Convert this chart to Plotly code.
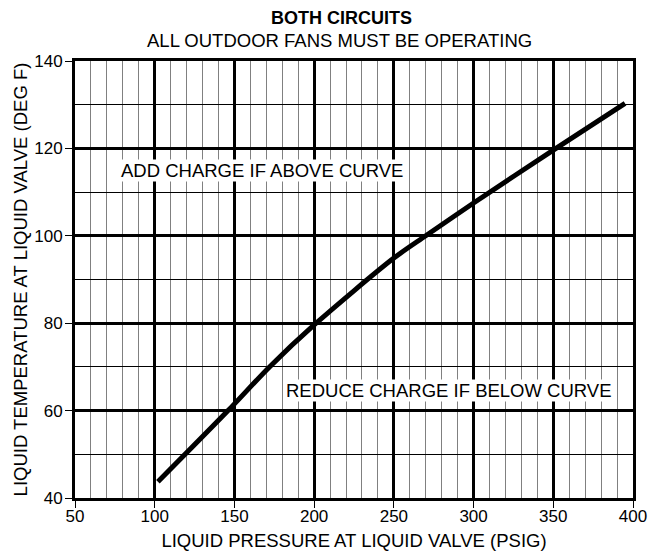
import plotly.graph_objects as go

# Curve values
pressure = [102, 146, 172, 200, 250, 270, 300, 350, 395]
temperature = [43.7, 60, 70, 79.6, 94.9, 100, 107.5, 119.6, 130.3]

x_ticks = [50, 100, 150, 200, 250, 300, 350, 400]
y_ticks = [40, 60, 80, 100, 120, 140]

title_main = "BOTH CIRCUITS"
title_sub = "ALL OUTDOOR FANS MUST BE OPERATING"
x_title = "LIQUID PRESSURE AT LIQUID VALVE (PSIG)"
y_title = "LIQUID TEMPERATURE AT LIQUID VALVE (DEG F)"
note_above = "ADD CHARGE IF ABOVE CURVE"
note_below = "REDUCE CHARGE IF BELOW CURVE"

FONT = "Liberation Sans, Arial, sans-serif"
FS = 18.5

# page offset (browser body margin) compensation
OFF = 8
W, H = 660 - OFF, 551 - OFF
L, R, T, B = 75 - OFF, 27, 61 - OFF, 53

fig = go.Figure()
fig.add_trace(go.Scatter(
    x=pressure, y=temperature, mode="lines",
    line=dict(color="black", width=5, shape="spline", smoothing=0.8),
    hoverinfo="skip", showlegend=False,
))

axis_common = dict(
    showline=True, linecolor="black", linewidth=3, mirror=True,
    showgrid=True, gridcolor="black", gridwidth=3,
    ticks="outside", ticklen=7, tickwidth=1, tickcolor="black",
    zeroline=False, automargin=False,
    tickfont=dict(family=FONT, size=17, color="black"),
)

fig.update_xaxes(
    range=[50, 400], tickvals=x_ticks, ticklabelstandoff=-6,
    minor=dict(dtick=10, tick0=50, showgrid=True, gridcolor="#808080", gridwidth=1, ticks=""),
    title=dict(text=x_title, font=dict(family=FONT, size=FS, color="black"), standoff=18),
    **axis_common,
)
fig.update_yaxes(
    range=[40, 140], tickvals=y_ticks, ticklabelstandoff=-1,
    minor=dict(dtick=10, tick0=40, showgrid=True, gridcolor="black", gridwidth=1, ticks=""),
    title=dict(text=y_title, font=dict(family=FONT, size=FS, color="black"), standoff=2),
    **axis_common,
)

fig.add_annotation(x=167, y=115, xref="x", yref="y", text=note_above, showarrow=False,
                   bgcolor="white", borderpad=0,
                   font=dict(family=FONT, size=FS, color="black"))
fig.add_annotation(x=284.5, y=64.7, xref="x", yref="y", text=note_below, showarrow=False,
                   bgcolor="white", borderpad=0,
                   font=dict(family=FONT, size=FS, color="black"))

fig.update_layout(
    width=W, height=H,
    margin=dict(l=L, r=R, t=T, b=B),
    paper_bgcolor="white", plot_bgcolor="white",
    font=dict(family=FONT, color="black"),
    showlegend=False,
)

plot_w = W - L - R
plot_h = H - T - B
def px_to_paper_x(px):
    return (px - OFF - L) / plot_w
def px_to_paper_y(py):
    return (H - B - (py - OFF)) / plot_h

fig.add_annotation(x=px_to_paper_x(341), y=px_to_paper_y(18), xref="paper", yref="paper",
                   text="<b>" + title_main + "</b>", showarrow=False, yanchor="middle",
                   font=dict(family=FONT, size=18, color="black"))
fig.add_annotation(x=px_to_paper_x(339), y=px_to_paper_y(40), xref="paper", yref="paper",
                   text=title_sub, showarrow=False, yanchor="middle",
                   font=dict(family=FONT, size=FS, color="black"))

fig.write_html("out.html")
